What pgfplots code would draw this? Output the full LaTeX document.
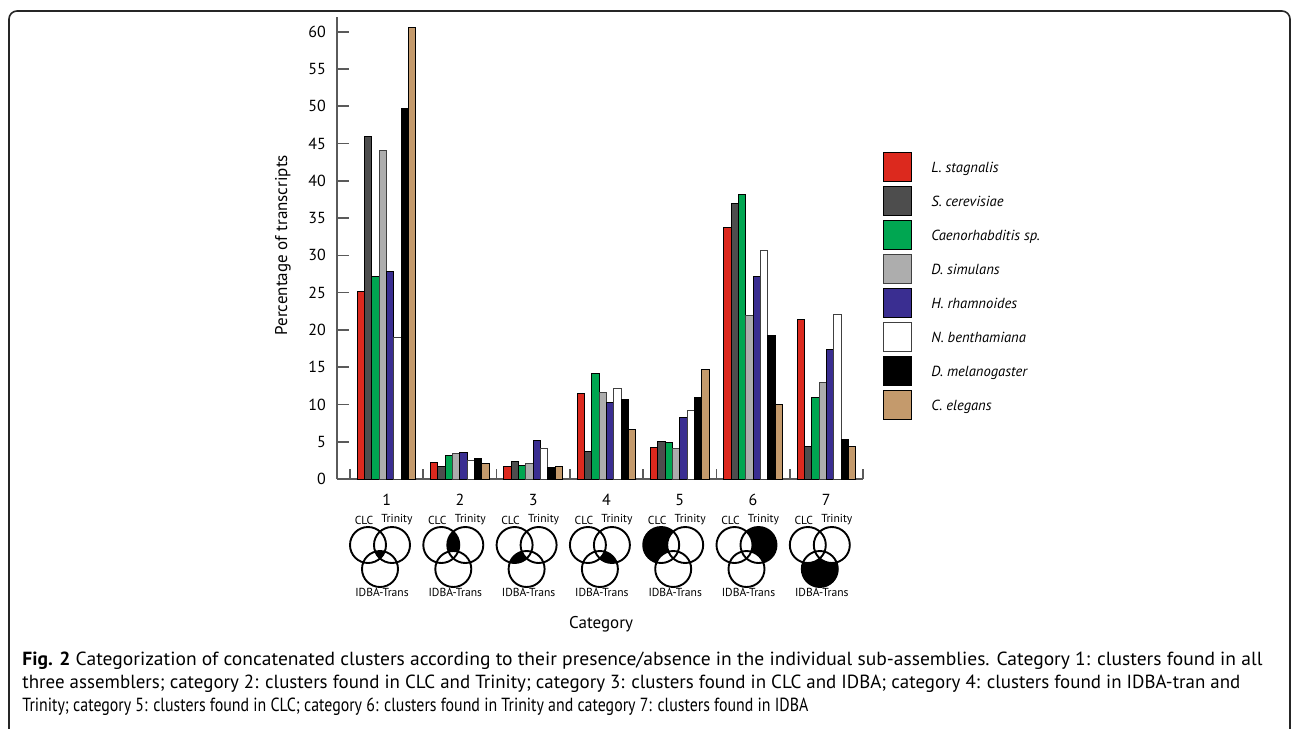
\documentclass[border=0pt]{standalone}
\usepackage{fontspec}
\setmainfont{PT Sans}
\usepackage{pgfplots}
\pgfplotsset{compat=1.18}
\definecolor{cRed}{RGB}{220,41,30}
\definecolor{cDGray}{RGB}{77,77,77}
\definecolor{cGreen}{RGB}{0,166,81}
\definecolor{cLGray}{RGB}{173,173,173}
\definecolor{cBlue}{RGB}{58,46,145}
\definecolor{cTan}{RGB}{196,154,108}
\definecolor{axgray}{RGB}{90,90,90}
\begin{document}
\begin{tikzpicture}
\path[use as bounding box] (0,0) rectangle (646pt,-364.5pt);
\begin{axis}[
  at={(168.5pt,-239.5pt)}, anchor=south west,
  scale only axis, width=263pt, height=231.1pt,
  xmin=0.323, xmax=7.5, ymin=0, ymax=62,
  axis lines*=left,
  axis line style={draw=axgray, line width=0.8pt},
  ytick={0,5,...,60},
  xtick={1,2,3,4,5,6,7},
  minor xtick={0.5,1.5,...,7.5},
  tick align=inside,
  major tick length=6pt,
  minor tick length=5pt,
  every tick/.style={draw=axgray, line width=0.8pt},
  major x tick style={draw=none},
  /pgf/number format/assume math mode=true,
  ticklabel style={font=\fontsize{8}{9}\selectfont},
  yticklabel style={xshift=-2pt},
  xticklabel style={yshift=-4pt},
  ylabel={Percentage of transcripts},
  ylabel style={at={(axis description cs:-0.1027,0.506)}, anchor=center, font=\fontsize{8.5}{10}\selectfont},
  xlabel={Category},
  xlabel style={at={(axis description cs:0.502,-0.3137)}, anchor=center, font=\fontsize{8.5}{10}\selectfont},
  clip=false,
  legend image code/.code={\draw[#1] (0pt,-7.25pt) rectangle (14pt,7.25pt);},
  legend style={at={(axis description cs:1.038,0.7075)}, anchor=north west, draw=none, fill=none,
     inner xsep=0pt, inner ysep=0pt, row sep=2pt, nodes={inner sep=1pt, text depth=0pt},
     /tikz/every odd column/.append style={column sep=8.5pt},
     font=\fontsize{7.3}{8}\selectfont\itshape},
  legend cell align=left,
]
\addplot[ybar, bar width=0.1, bar shift=-0.35, fill=cRed, draw=black, line width=0.5pt]
  coordinates {(1,25.1) (2,2.2) (3,1.7) (4,11.5) (5,4.2) (6,33.8) (7,21.4)};
\addplot[ybar, bar width=0.1, bar shift=-0.25, fill=cDGray, draw=black, line width=0.5pt]
  coordinates {(1,46.0) (2,1.7) (3,2.3) (4,3.75) (5,5.0) (6,37.0) (7,4.3)};
\addplot[ybar, bar width=0.1, bar shift=-0.15, fill=cGreen, draw=black, line width=0.5pt]
  coordinates {(1,27.1) (2,3.2) (3,1.8) (4,14.1) (5,4.9) (6,38.1) (7,10.9)};
\addplot[ybar, bar width=0.1, bar shift=-0.05, fill=cLGray, draw=black!75, line width=0.5pt]
  coordinates {(1,44.0) (2,3.4) (3,2.05) (4,11.65) (5,4.05) (6,21.9) (7,12.9)};
\addplot[ybar, bar width=0.1, bar shift=0.05, fill=cBlue, draw=black, line width=0.5pt]
  coordinates {(1,27.9) (2,3.55) (3,5.1) (4,10.2) (5,8.2) (6,27.2) (7,17.4)};
\addplot[ybar, bar width=0.1, bar shift=0.15, fill=white, draw=black!75, line width=0.5pt]
  coordinates {(1,18.95) (2,2.5) (3,4.15) (4,12.2) (5,9.15) (6,30.7) (7,22.1)};
\addplot[ybar, bar width=0.1, bar shift=0.25, fill=black, draw=black, line width=0.5pt]
  coordinates {(1,49.7) (2,2.75) (3,1.55) (4,10.6) (5,11.0) (6,19.2) (7,5.35)};
\addplot[ybar, bar width=0.1, bar shift=0.35, fill=cTan, draw=black, line width=0.5pt]
  coordinates {(1,60.6) (2,2.1) (3,1.65) (4,6.65) (5,14.7) (6,10.0) (7,4.3)};
\legend{L. stagnalis, S. cerevisiae, Caenorhabditis sp., D. simulans, H. rhamnoides, N. benthamiana, D. melanogaster, C. elegans}
\end{axis}
\begin{scope}[x=0.5pt, y=-0.5pt]
  \begin{scope}
    \clip (0,0) rectangle (1292,729);
    \draw[line width=0.8pt, black!85, rounded corners=4pt] (9,11) rectangle (1290,790);
  \end{scope}
  % Venn diagrams
  \foreach \k in {1,...,7}{
    \pgfmathsetmacro{\cx}{380+(\k-1)*73.3}
    \def\A{(\cx-12,545) circle[radius=9pt]}
    \def\B{(\cx+12,545) circle[radius=9pt]}
    \def\C{(\cx,569) circle[radius=9pt]}
    \ifcase\k\or
      \begin{scope}\clip \A; \clip \B; \fill[black] \C; \end{scope}
    \or
      \begin{scope}\clip \A; \fill[black] \B; \fill[white] \C; \end{scope}
    \or
      \begin{scope}\clip \A; \fill[black] \C; \fill[white] \B; \end{scope}
    \or
      \begin{scope}\clip \B; \fill[black] \C; \fill[white] \A; \end{scope}
    \or
      \fill[black] \A; \fill[white] \B; \fill[white] \C;
    \or
      \fill[black] \B; \fill[white] \A; \fill[white] \C;
    \or
      \fill[black] \C; \fill[white] \A; \fill[white] \B;
    \fi
    \draw[line width=0.95pt] \A; \draw[line width=0.95pt] \B; \draw[line width=0.95pt] \C;
    \node[font=\fontsize{5.8}{6.5}\selectfont, inner sep=0] at (\cx-16,520) {CLC};
    \node[font=\fontsize{5.8}{6.5}\selectfont, inner sep=0] at (\cx+17,520) {Trinity};
    \node[font=\fontsize{5.8}{6.5}\selectfont, inner sep=0] at (\cx+2,592) {IDBA-Trans};
  }
  % caption
  \node[anchor=base west, inner sep=0, font=\fontsize{9.5}{11}\selectfont] at (22,665)
    {\resizebox{620pt}{\height}{\textbf{Fig. 2} Categorization of concatenated clusters according to their presence/absence in the individual sub-assemblies. Category 1: clusters found in all}};
  \node[anchor=base west, inner sep=0, font=\fontsize{9.5}{11}\selectfont] at (22,688)
    {\resizebox{609pt}{\height}{three assemblers; category 2: clusters found in CLC and Trinity; category 3: clusters found in CLC and IDBA; category 4: clusters found in IDBA-tran and}};
  \node[anchor=base west, inner sep=0, font=\fontsize{9.5}{11}\selectfont] at (22,711)
    {\resizebox{393pt}{\height}{Trinity; category 5: clusters found in CLC; category 6: clusters found in Trinity and category 7: clusters found in IDBA}};
\end{scope}
\end{tikzpicture}
\end{document}
